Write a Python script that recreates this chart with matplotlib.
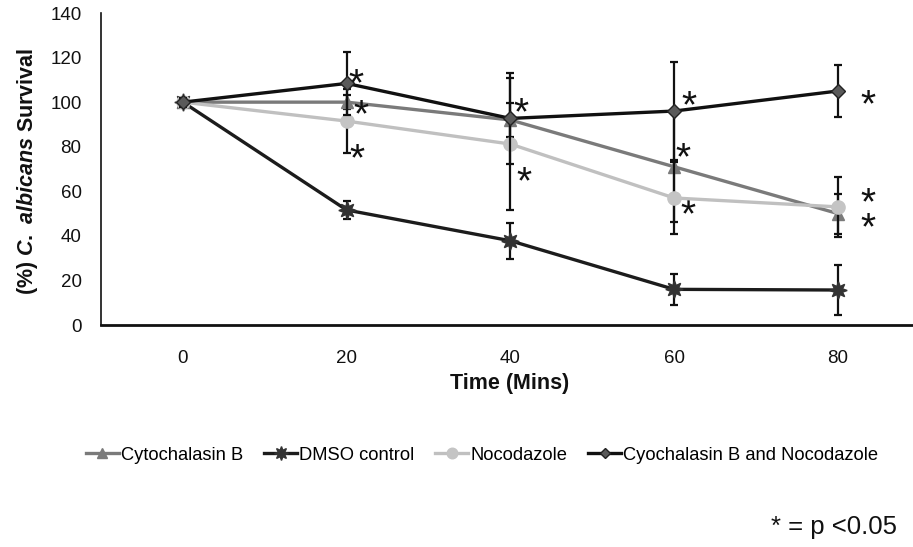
import matplotlib
matplotlib.use("Agg")
import matplotlib.pyplot as plt
from matplotlib.lines import Line2D

plt.rcParams['font.family'] = ['Liberation Sans', 'DejaVu Sans']
plt.rcParams['mathtext.fontset'] = 'custom'
plt.rcParams['mathtext.it'] = 'Liberation Sans:bold:italic'
plt.rcParams['mathtext.rm'] = 'Liberation Sans:bold'

time = [0, 20, 40, 60, 80]
time_labels = ['0', '20', '40', '60', '80']

cyto = [100, 100, 92, 71, 50]
cyto_err = [2, 3, 7.5, 25, 9]
dmso = [100, 51.6, 37.8, 16, 15.7]
dmso_err = [2, 4, 8, 7, 11]
noco = [100, 91.5, 81.2, 57, 53]
noco_err = [2, 14.5, 29.5, 16, 13.5]
combo = [100, 108.4, 92.7, 96, 105]
combo_err = [2, 14, 20.3, 22, 11.7]

series_names = ['Cytochalasin B', 'DMSO control', 'Nocodazole',
                'Cyochalasin B and Nocodazole']

# significance asterisks (x, y) in data units; '*\n*' marks two stacked stars
star_x = [21.2, 21.8, 21.3, 41.3, 41.7, 61.8, 61.1, 61.7, 83.7, 83.7]
star_y = [113, 99, 79, 100, 69, 103, 79.5, 54, 103.6, 54]
star_txt = ['*', '*', '*', '*', '*', '*', '*', '*', '*', '*\n*']

fig = plt.figure(figsize=(9.13, 5.47), dpi=100)
ax = fig.add_axes([101/913, 1-325/547, (912-101)/913, (325-13)/547])

styles = [
    dict(color='#7a7a7a', marker='^', ms=8.5, mfc='#7a7a7a', mec='#7a7a7a', zorder=3),
    dict(color='#1c1c1c', marker=(8, 1, 0), ms=12.5, mfc='#333333', mec='#333333', zorder=2),
    dict(color='#c0c0c0', marker='o', ms=9.5, mfc='#c4c4c4', mec='#c4c4c4', zorder=4),
    dict(color='#111111', marker='D', ms=7, mfc='#5a5a5a', mec='#222222', zorder=5),
]
data = [(cyto, cyto_err), (dmso, dmso_err), (noco, noco_err), (combo, combo_err)]

handles = []
for (vals, errs), st, name in zip(data, styles, series_names):
    ax.errorbar(time, vals, yerr=errs, fmt='none', ecolor='#111111',
                elinewidth=1.6, capsize=3.2, capthick=1.6, zorder=st['zorder'] - 0.5)
    ax.plot(time, vals, color=st['color'], lw=2.4, marker=st['marker'],
            ms=st['ms'], mfc=st['mfc'], mec=st['mec'], zorder=st['zorder'])
    handles.append(Line2D([], [], color=st['color'], lw=2.4, marker=st['marker'],
                          ms=st['ms'] * 0.8, mfc=st['mfc'], mec=st['mec'], label=name))

for sx, sy, t in zip(star_x, star_y, star_txt):
    ax.text(sx, sy - 5.3, t, fontsize=28, ha='center', va='center',
            color='#111111', linespacing=0.6)

ax.set_xlim(-10, 89.05)
ax.set_ylim(0, 140)
ax.set_yticks(range(0, 141, 20))
ax.set_xticks(time)
ax.set_xticklabels(time_labels)
ax.tick_params(axis='both', length=0, labelsize=13.5, colors='#111111')
ax.tick_params(axis='y', pad=14)
ax.tick_params(axis='x', pad=18)
for s in ['top', 'right']:
    ax.spines[s].set_visible(False)
ax.spines['left'].set_linewidth(1.2)
ax.spines['bottom'].set_linewidth(2)
ax.spines['left'].set_color('#111111')
ax.spines['bottom'].set_color('#111111')

fig.text(510/913, 1-384/547, 'Time (Mins)', fontsize=15.5, fontweight='bold',
         ha='center', va='center', color='#111111')
fig.text(28/913, 1-171/547, r'(%) $\mathit{C.\ albicans}$ Survival', fontsize=15.5,
         fontweight='bold', rotation=90, ha='center', va='center', color='#111111')

fig.legend(handles=handles, loc='center', bbox_to_anchor=(482/913, 1-455/547),
           ncol=4, frameon=False, fontsize=13.2, handlelength=1.8,
           handletextpad=0.1, columnspacing=1.15)

fig.text(897/913, 1-527/547, '* = p <0.05', fontsize=18.5, ha='right', va='center',
         color='#111111')

fig.savefig('out.png', dpi=100)
